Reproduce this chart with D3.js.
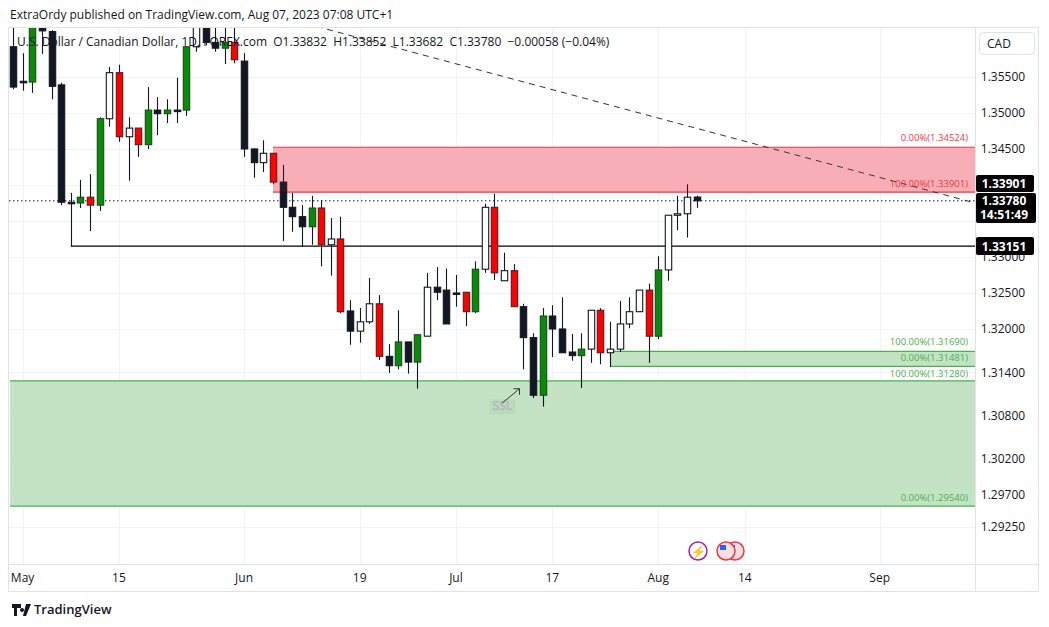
<!DOCTYPE html>
<html><head><meta charset="utf-8">
<script src="https://cdn.jsdelivr.net/npm/d3@7"></script>
<style>body{margin:0;background:#fff;font-family:"Open Sans",Roboto,sans-serif}</style>
</head><body><svg id="c" width="1049" height="627"></svg>
<script>
const opens  =[1.3592,1.3544,1.3543,1.3618,1.3613,1.3539,1.3376,1.3375,1.3383,1.3372,1.3492,1.3556,1.3467,1.3479,1.3456,1.3504,1.3499,1.3504,1.3504,1.3592,1.3619,1.3598,1.3590,1.3598,1.3572,1.3450,1.3431,1.3444,1.3404,1.3369,1.3356,1.3342,1.3368,1.3317,1.3325,1.3225,1.3197,1.3210,1.3235,1.3162,1.3149,1.3182,1.3154,1.3190,1.3258,1.3254,1.3250,1.3251,1.3224,1.3283,1.3369,1.3267,1.3281,1.3231,1.3188,1.3108,1.3218,1.3200,1.3168,1.3163,1.3172,1.3226,1.3167,1.3172,1.3207,1.3224,1.3254,1.3190,1.3282,1.3358,1.3360,1.33832];
const highs  =[1.3619,1.3583,1.3622,1.3621,1.3615,1.3542,1.3389,1.3407,1.3415,1.3494,1.3564,1.3567,1.3494,1.3479,1.3536,1.3522,1.3519,1.3549,1.3592,1.3622,1.3622,1.3619,1.3619,1.3619,1.3583,1.3451,1.3462,1.3444,1.3428,1.3389,1.3372,1.3385,1.3379,1.3354,1.3356,1.3240,1.3229,1.3271,1.3247,1.3179,1.3226,1.3182,1.3193,1.3278,1.3286,1.3284,1.3275,1.3251,1.3294,1.3374,1.3388,1.3306,1.3290,1.3235,1.3194,1.3229,1.3233,1.3244,1.3193,1.3194,1.3226,1.3229,1.3210,1.3239,1.3244,1.3254,1.3263,1.3301,1.3358,1.3385,1.3401,1.33852];
const lows   =[1.3533,1.3531,1.3528,1.3582,1.3519,1.3372,1.33151,1.3368,1.3336,1.3364,1.3481,1.3460,1.3406,1.3439,1.3450,1.3469,1.3486,1.3486,1.3496,1.3585,1.3594,1.3585,1.3568,1.3569,1.3439,1.3410,1.3418,1.3401,1.3322,1.3335,1.3314,1.3317,1.3287,1.3274,1.3222,1.3178,1.3181,1.3207,1.3157,1.3139,1.3144,1.3138,1.3117,1.3190,1.3240,1.3207,1.3231,1.3204,1.3222,1.3278,1.3268,1.3267,1.3231,1.3144,1.3104,1.3092,1.3161,1.3167,1.3156,1.3118,1.3153,1.3151,1.3147,1.3168,1.3201,1.3224,1.3153,1.3186,1.3267,1.3337,1.3327,1.33682];
const closes =[1.3536,1.3543,1.3619,1.3614,1.3537,1.3376,1.3375,1.3383,1.3372,1.3492,1.3556,1.3467,1.3479,1.3456,1.3504,1.3499,1.3504,1.3503,1.3592,1.3619,1.3598,1.3590,1.3598,1.3574,1.3450,1.3431,1.3444,1.3404,1.3369,1.3356,1.3342,1.3368,1.3317,1.3325,1.3224,1.3197,1.3210,1.3235,1.3162,1.3149,1.3182,1.3154,1.3192,1.3258,1.3251,1.3207,1.3249,1.3224,1.3283,1.3369,1.3278,1.3281,1.3231,1.3188,1.3108,1.3218,1.3200,1.3167,1.3163,1.3172,1.3226,1.3167,1.3172,1.3207,1.3224,1.3254,1.3190,1.3282,1.3358,1.3360,1.3383,1.33780];
const marks = "..g....grg"+".r.rg.g.g."+"..gr...r.."+".gr.r...r."+"g.g....rg."+"r.r..g...g"+".r....rg.."+"..";
const priceTicks=[1.355,1.350,1.345,1.330,1.325,1.320,1.314,1.308,1.302,1.297,1.2925];
const priceTickLabels=["1.35500","1.35000","1.34500","1.33000","1.32500","1.32000","1.31400","1.30800","1.30200","1.29700","1.29250"];
const gridTicks=[1.355,1.350,1.345,1.340,1.335,1.330,1.325,1.320,1.314,1.308,1.302,1.297,1.2925];
const timeTicks=[1,11,24,36,46,56,67,76,90];
const timeLabels=["May","15","Jun","19","Jul","17","Aug","14","Sep"];
const supplyZone=[1.34524,1.33901], demandSmall=[1.31690,1.31481], demandBig=[1.31280,1.29540];
const level=1.33151, last=1.33780;

const svg=d3.select("#c");
const x=d3.scaleLinear().domain([-0.31,99.9]).range([10,975]);
const y=d3.scaleLinear().domain([1.36194,1.28736]).range([27,564]);
const F="'Open Sans',Roboto,sans-serif";

svg.append("rect").attr("x",8.5).attr("y",27.5).attr("width",1030).attr("height",564).attr("fill","#fff").attr("stroke","#e0e3eb");
const plot=svg.append("g");
plot.append("defs").append("clipPath").attr("id","pc").append("rect").attr("x",9).attr("y",28).attr("width",966).attr("height",536);
const g=plot.append("g").attr("clip-path","url(#pc)");
g.selectAll(".hg").data(gridTicks).join("line").attr("x1",9).attr("x2",975).attr("y1",d=>Math.round(y(d))+.5).attr("y2",d=>Math.round(y(d))+.5).attr("stroke","#f0f3fa");
g.selectAll(".vg").data(timeTicks).join("line").attr("x1",d=>Math.round(x(d))+.5).attr("x2",d=>Math.round(x(d))+.5).attr("y1",28).attr("y2",564).attr("stroke","#f0f3fa");
function zone(z,x0,fill,stroke){
  g.append("rect").attr("x",x(x0)).attr("y",y(z[0])).attr("width",975-x(x0)).attr("height",y(z[1])-y(z[0])).attr("fill",fill);
  z.forEach(v=>g.append("line").attr("x1",x(x0)).attr("x2",975).attr("y1",y(v)).attr("y2",y(v)).attr("stroke",stroke).attr("stroke-width",1.2));
}
zone(supplyZone,27,"#f9b9c0","#f23645");
zone(demandBig,-0.31,"#c4e3c5","#4caf50");
zone(demandSmall,62,"#c4e3c5","#4caf50");
g.append("line").attr("x1",x(6)).attr("x2",975).attr("y1",y(level)).attr("y2",y(level)).attr("stroke","#000").attr("stroke-width",1.2);
g.append("line").attr("x1",9).attr("x2",975).attr("y1",y(last)).attr("y2",y(last)).attr("stroke","#131722").attr("stroke-dasharray","1.5,2.5");
g.append("line").attr("x1",x(26)).attr("y1",y(1.3640)).attr("x2",x(99.9)).attr("y2",y(1.3375)).attr("stroke","#333").attr("stroke-dasharray","6,5");
const data=opens.map((o,i)=>({i,o,h:highs[i],l:lows[i],c:closes[i],m:marks[i]}));
const cw=6.4;
g.selectAll(".w").data(data).join("line").attr("x1",d=>Math.round(x(d.i))+.5).attr("x2",d=>Math.round(x(d.i))+.5)
 .attr("y1",d=>y(d.h)).attr("y2",d=>y(d.l)).attr("stroke","#131722").attr("stroke-width",1.1);
g.selectAll(".b").data(data).join("rect").attr("x",d=>Math.round(x(d.i))+.5-cw/2).attr("width",cw)
 .attr("y",d=>y(Math.max(d.o,d.c))).attr("height",d=>Math.max(1.5,Math.abs(y(d.o)-y(d.c))))
 .attr("fill",d=>d.m==="g"?"#0a8a0a":d.m==="r"?"#ff0000":(d.c>=d.o?"#ffffff":"#131722"))
 .attr("stroke",d=>d.m==="g"?"#174d17":d.m==="r"?"#5a1a1a":"#131722").attr("stroke-width",1.1);
g.append("rect").attr("x",x(27)).attr("y",y(supplyZone[0])).attr("width",975-x(27)).attr("height",y(supplyZone[1])-y(supplyZone[0])).attr("fill","#f23645").attr("opacity",0.08);
function lab(t,v,col,dy){g.append("text").attr("x",968).attr("y",y(v)+dy).attr("text-anchor","end").attr("font-size",9.5).attr("font-family",F).attr("fill",col).text(t);}
lab("0.00%(1.34524)",supplyZone[0],"#f23645",-6);
lab("100.00%(1.33901)",supplyZone[1],"#f23645",-5);
lab("100.00%(1.31690)",demandSmall[0],"#4caf50",-6);
lab("0.00%(1.31481)",demandSmall[1],"#4caf50",-5);
lab("100.00%(1.31280)",demandBig[0],"#4caf50",-4);
lab("0.00%(1.29540)",demandBig[1],"#4caf50",-5);
g.append("rect").attr("x",x(49.5)).attr("y",y(1.3087)-11).attr("width",26).attr("height",15).attr("fill","#b8dcb9");
g.append("text").attr("x",x(49.8)).attr("y",y(1.3087)).attr("font-size",12).attr("font-family",F).attr("font-weight",600).attr("fill","#b2b5be").text("SSL");
g.append("line").attr("x1",x(50.8)).attr("y1",y(1.3097)).attr("x2",x(52.6)).attr("y2",y(1.3117)).attr("stroke","#333");
g.append("path").attr("d",`M${x(52.6)-6},${y(1.3117)} L${x(52.6)},${y(1.3117)} L${x(52.6)},${y(1.3117)+6}`).attr("fill","none").attr("stroke","#333");
svg.append("line").attr("x1",975.5).attr("x2",975.5).attr("y1",28).attr("y2",591).attr("stroke","#e0e3eb");
svg.append("line").attr("x1",9).attr("x2",1038).attr("y1",564.5).attr("y2",564.5).attr("stroke","#e0e3eb");
svg.selectAll(".pt").data(priceTicks).join("text").attr("x",1003).attr("y",d=>y(d)+4.5).attr("text-anchor","middle").attr("font-size",12).attr("font-family",F).attr("fill","#131722").text((d,i)=>priceTickLabels[i]);
svg.selectAll(".tt").data(timeTicks).join("text").attr("x",d=>x(d)).attr("y",582).attr("text-anchor","middle").attr("font-size",12).attr("font-family",F).attr("fill","#131722").text((d,i)=>timeLabels[i]);
const by=y(supplyZone[1]);
svg.append("rect").attr("x",976).attr("y",y(level)-9).attr("width",58).attr("height",18).attr("rx",2).attr("fill","#000");
svg.append("text").attr("x",1004).attr("y",y(level)+4.5).attr("text-anchor","middle").attr("font-size",12).attr("font-weight",700).attr("font-family",F).attr("fill","#fff").text("1.33151");
svg.append("rect").attr("x",976).attr("y",by-17).attr("width",58).attr("height",17).attr("rx",2).attr("fill","#000");
svg.append("text").attr("x",1004).attr("y",by-4).attr("text-anchor","middle").attr("font-size",12).attr("font-weight",700).attr("font-family",F).attr("fill","#fff").text("1.33901");
svg.append("rect").attr("x",976).attr("y",by+1).attr("width",60).attr("height",30).attr("rx",2).attr("fill","#000");
svg.append("text").attr("x",1004).attr("y",by+13).attr("text-anchor","middle").attr("font-size",12).attr("font-weight",700).attr("font-family",F).attr("fill","#fff").text("1.33780");
svg.append("text").attr("x",1004).attr("y",by+27).attr("text-anchor","middle").attr("font-size",12).attr("font-weight",700).attr("font-family",F).attr("fill","#fff").text("14:51:49");
svg.append("rect").attr("x",979.5).attr("y",32.5).attr("width",55).attr("height",22).attr("rx",4).attr("fill","#fff").attr("stroke","#e0e3eb");
svg.append("text").attr("x",999).attr("y",48).attr("text-anchor","middle").attr("font-size",12).attr("font-family",F).attr("fill","#131722").text("CAD");
svg.append("text").attr("x",10).attr("y",19).attr("font-size",12).attr("font-family",F).attr("fill","#131722").text("ExtraOrdy published on TradingView.com, Aug 07, 2023 07:08 UTC+1");
svg.append("text").attr("x",17).attr("y",46).attr("font-size",12).attr("font-family",F).attr("fill","#131722")
 .text("U.S. Dollar / Canadian Dollar, 1D, FOREX.com  O1.33832  H1.33852  L1.33682  C1.33780  −0.00058 (−0.04%)").attr("xml:space","preserve");
svg.append("circle").attr("cx",698).attr("cy",551).attr("r",9).attr("fill","#fff").attr("stroke","#9c27b0").attr("stroke-width",1.5);
svg.append("text").attr("x",698).attr("y",556).attr("text-anchor","middle").attr("font-size",12).attr("fill","#9c27b0").text("⚡");
[735,726].forEach(cx=>{svg.append("circle").attr("cx",cx).attr("cy",551).attr("r",9).attr("fill","#fbe0e2").attr("stroke","#f23645").attr("stroke-width",1.5);
 svg.append("rect").attr("x",cx-6).attr("y",545).attr("width",6).attr("height",5).attr("fill","#2962ff");});
svg.append("path").attr("d","M12 604 h9 v4 h-4 v8 h-3 v-8 h-2z M22 608 a2 2 0 1 0 0.1 0 M26 604 h5 l-5 12 h-3z").attr("fill","#131722");
svg.append("text").attr("x",34).attr("y",614).attr("font-size",13).attr("font-weight",600).attr("font-family",F).attr("fill","#131722").text("TradingView");
</script></body></html>
